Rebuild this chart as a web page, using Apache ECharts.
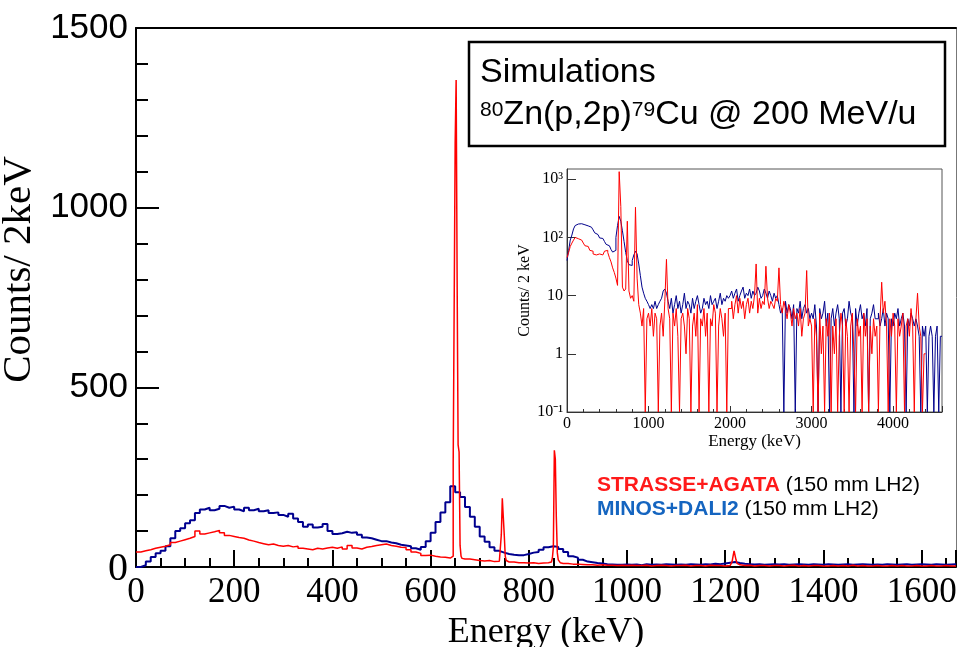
<!DOCTYPE html>
<html>
<head>
<meta charset="utf-8">
<title>80Zn(p,2p)79Cu simulations</title>
<script src="https://cdn.jsdelivr.net/npm/echarts@6/dist/echarts.min.js"></script>
<style>
html,body{margin:0;padding:0;background:#fff;}
#main{width:961px;height:647px;}
</style>
</head>
<body>
<div id="main"></div>
<script>
// main spectrum, 10 keV steps, counts per 2 keV
var mainBinWidth = 10;
var mainMaxE = 1670;
var blueMain = [
  0, 5, 15, 28, 38, 45, 58, 80, 100, 108,
  122, 130, 150, 160, 165, 158, 162, 170, 165, 168,
  160, 155, 165, 158, 162, 155, 158, 150, 152, 145,
  140, 148, 135, 125, 112, 118, 110, 112, 120, 100,
  92, 94, 98, 95, 97, 90, 82, 80, 76, 72,
  72, 68, 66, 62, 60, 58, 52, 48, 56, 72,
  95, 125, 152, 180, 225, 208, 195, 167, 140, 112,
  85, 70, 55, 45, 40, 36, 34, 33, 33, 36,
  40, 42, 48, 55, 58, 56, 50, 42, 30, 26,
  20, 15, 13, 11, 10, 8, 7, 6, 6, 7,
  6, 7, 5, 8, 6, 7, 6, 8, 7, 6,
  7, 6, 8, 7, 6, 8, 7, 9, 8, 10,
  12, 14, 11, 9, 8, 7, 8, 6, 7, 8,
  7, 8, 6, 7, 8, 7, 6, 8, 7, 6,
  8, 7, 6, 7, 8, 6, 7, 8, 7, 6,
  7, 6, 8, 7, 6, 7, 8, 6, 7, 8,
  7, 6, 8, 7, 6, 7, 8
];
var redMain = [
  42, 45, 48, 52, 55, 58, 62, 68, 72, 76,
  80, 85, 100, 92, 95, 98, 102, 95, 88, 85,
  82, 80, 75, 72, 68, 65, 62, 64, 60, 58,
  60, 56, 58, 52, 50, 48, 52, 50, 53, 55,
  52, 56, 50, 60, 53, 50, 55, 57, 60, 62,
  64, 60, 58, 55, 54, 48, 42, 38, 32, 33,
  30, 28, 27, 25, 700, 500, 35, 22, 20, 18,
  17, 18, 15, 16, 90, 60, 14, 12, 12, 11,
  12, 10, 11, 12, 15, 190, 15, 10, 8, 8,
  7, 6, 6, 5, 6, 5, 5, 4, 5, 4,
  5, 4, 4, 5, 3, 4, 5, 4, 3, 4,
  4, 5, 3, 4, 4, 3, 5, 4, 4, 3,
  4, 20, 20, 4, 5, 3, 4, 4, 3, 4,
  4, 3, 4, 5, 3, 4, 3, 4, 4, 3,
  3, 4, 3, 4, 3, 5, 3, 4, 3, 3,
  4, 3, 3, 4, 3, 4, 3, 3, 4, 3,
  3, 4, 3, 3, 4, 3, 3
];
// narrow red lines in 2 keV bins
var peakBinWidth = 2;
var redPeakStart = [640, 740, 840, 1210];
var redPeakCounts = [
  [26, 28, 30, 290, 730, 1180, 1355, 800, 340, 320, 60, 30, 24, 22, 22],
  [16, 18, 90, 191, 140, 89, 30, 18, 15, 14],
  [12, 12, 14, 15, 25, 55, 325, 300, 140, 40, 20, 15, 12, 11, 10],
  [6, 8, 15, 30, 45, 40, 20, 10, 7, 6]
];

// inset, 20 keV steps, log scale
var insetBinWidth = 20;
var insetMaxE = 4600;
var blueInset = [
  40, 60, 90, 110, 140, 160, 170, 165, 172, 168,
  165, 160, 158, 150, 150, 140, 135, 120, 112, 108,
  98, 96, 92, 85, 76, 72, 68, 62, 56, 60,
  100, 160, 230, 190, 130, 85, 55, 40, 34, 33,
  40, 50, 58, 52, 35, 22, 14, 11, 9, 8,
  7, 6, 7, 6, 8, 6, 7, 8, 9, 12,
  13, 11, 8, 6, 9, 5, 7, 10, 6, 8,
  5, 7, 11, 6, 8, 7, 5, 9, 6, 8,
  10, 7, 5, 6, 9, 7, 8, 6, 10, 7,
  8, 9, 6, 8, 11, 7, 9, 8, 10, 9,
  10, 12, 9, 11, 13, 8, 10, 12, 14, 9,
  11, 10, 13, 9, 12, 10, 11, 14, 12, 9,
  10, 13, 11, 9, 12, 10, 8, 11, 9, 10,
  7, 5, 6, 0, 8, 5, 7, 6, 4, 7,
  0, 6, 5, 8, 4, 6, 7, 5, 6, 4,
  5, 4, 7, 3, 0, 6, 4, 5, 8, 3,
  5, 0, 4, 6, 3, 5, 7, 4, 0, 5,
  6, 3, 4, 8, 5, 4, 0, 6, 3, 5,
  7, 4, 5, 3, 6, 0, 4, 5, 7, 4,
  4, 5, 3, 4, 6, 3, 5, 4, 0, 4,
  3, 5, 4, 6, 3, 4, 5, 3, 0, 4,
  3, 5, 4, 3, 4, 3, 2, 0, 3, 2,
  3, 0, 2, 3, 2, 0, 2, 3, 0, 2
];
var redInset = [
  45, 55, 70, 80, 90, 100, 95, 98, 90, 85,
  80, 72, 70, 65, 60, 58, 52, 50, 48, 52,
  55, 50, 52, 58, 60, 55, 45, 38, 30, 25,
  20, 15, 1350, 340, 14, 12, 13, 190, 12, 9,
  10, 8, 330, 20, 7, 5, 3, 6, 0, 4,
  5, 3, 6, 2, 5, 4, 0, 3, 5, 2,
  8, 42, 6, 4, 0, 5, 3, 6, 2, 0,
  4, 5, 3, 1, 6, 4, 0, 3, 5, 2,
  7, 0, 4, 3, 6, 2, 5, 0, 4, 3,
  7, 5, 0, 3, 6, 4, 2, 5, 0, 6,
  6, 8, 4, 7, 10, 5, 9, 6, 8, 4,
  7, 9, 5, 8, 6, 10, 35, 5, 9, 6,
  8, 7, 32, 9, 6, 8, 7, 6, 9, 8,
  30, 7, 5, 8, 6, 4, 7, 5, 3, 6,
  4, 5, 3, 6, 2, 4, 5, 27, 3, 4,
  3, 0, 4, 2, 0, 5, 1, 3, 0, 4,
  2, 5, 0, 3, 1, 4, 0, 2, 5, 3,
  0, 4, 2, 0, 3, 5, 1, 0, 4, 2,
  3, 0, 5, 2, 4, 0, 3, 1, 4, 2,
  3, 0, 4, 17, 5, 8, 3, 0, 4, 2,
  5, 3, 0, 4, 2, 3, 5, 0, 3, 4,
  2, 6, 3, 0, 4, 11, 3, 2, 0, 1
];
var logMin = 0.1;
var logTicks = [0.1, 1, 10, 100, 1000];
var logTickText = ['10\u207B\u00B9', '1', '10', '10\u00B2', '10\u00B3'];

var legendNames = ['STRASSE+AGATA', 'MINOS+DALI2'];
var legendNote = ' (150 mm LH2)';

var serif = '"Liberation Serif", "Times New Roman", serif';
var sans = '"Liberation Sans", Arial, sans-serif';

var dom = document.getElementById('main');
var myChart = echarts.init(dom);

// histogram -> [lowEdge, count] points for a step line, fine bins spliced in
function stepData(counts, width, peakStart, peakCounts, floor) {
  var pts = [];
  for (var i = 0; i < counts.length; i++) {
    var e = i * width;
    var k = peakStart ? peakStart.indexOf(e) : -1;
    if (k >= 0) {
      var fine = peakCounts[k];
      for (var j = 0; j < fine.length; j++) {
        pts.push([e + j * peakBinWidth, fine[j]]);
      }
      i += Math.round(fine.length * peakBinWidth / width) - 1;
      continue;
    }
    pts.push([e, counts[i]]);
  }
  pts.push([counts.length * width, counts[counts.length - 1]]);
  if (floor) {
    pts = pts.map(function (p) { return [p[0], Math.max(p[1], floor)]; });
  }
  return pts;
}

function plainNum(v) {
  return String(v);
}

function logLabel(v) {
  for (var i = 0; i < logTicks.length; i++) {
    if (Math.abs(Math.log10(v) - Math.log10(logTicks[i])) < 1e-6) return logTickText[i];
  }
  return '';
}

var option = {
  animation: false,
  backgroundColor: '#fff',
  grid: [
    {left: 136, top: 28, width: 820, height: 539, containLabel: false, outerBoundsMode: 'none'},
    {left: 567, top: 169, width: 375, height: 243, show: true, containLabel: false, outerBoundsMode: 'none',
      backgroundColor: '#fff', borderColor: '#555', borderWidth: 1}
  ],
  xAxis: [
    {
      type: 'value', gridIndex: 0, min: 0, max: mainMaxE, interval: 200,
      axisLine: {onZero: false, lineStyle: {color: '#000', width: 2}},
      axisTick: {inside: true, length: 17, lineStyle: {color: '#000', width: 2}},
      minorTick: {show: true, splitNumber: 4, length: 9, lineStyle: {color: '#000', width: 2}},
      splitLine: {show: false},
      axisLabel: {color: '#000', fontFamily: serif, fontSize: 35, margin: 8, showMaxLabel: false, formatter: plainNum},
      name: 'Energy (keV)', nameLocation: 'middle', nameGap: 34,
      nameTextStyle: {color: '#000', fontFamily: serif, fontSize: 36}
    },
    {
      type: 'value', gridIndex: 0, position: 'top', min: 0, max: mainMaxE,
      axisLine: {show: true, onZero: false, lineStyle: {color: '#000', width: 2}},
      axisTick: {show: false}, axisLabel: {show: false}, splitLine: {show: false}
    },
    {
      type: 'value', gridIndex: 1, min: 0, max: insetMaxE, interval: 1000,
      axisLine: {onZero: false, lineStyle: {color: '#333', width: 1}},
      axisTick: {inside: true, length: 6, lineStyle: {color: '#333'}},
      minorTick: {show: true, splitNumber: 5, length: 3, lineStyle: {color: '#333'}},
      splitLine: {show: false},
      axisLabel: {color: '#000', fontFamily: serif, fontSize: 16, margin: 4, showMaxLabel: false, formatter: plainNum},
      name: 'Energy (keV)', nameLocation: 'middle', nameGap: 18,
      nameTextStyle: {color: '#000', fontFamily: serif, fontSize: 17}
    }
  ],
  yAxis: [
    {
      type: 'value', gridIndex: 0, min: 0, max: 1500, interval: 500,
      axisLine: {onZero: false, lineStyle: {color: '#000', width: 2}},
      axisTick: {inside: true, length: 23, lineStyle: {color: '#000', width: 2}},
      minorTick: {show: true, splitNumber: 5, length: 12, lineStyle: {color: '#000', width: 2}},
      splitLine: {show: false},
      axisLabel: {
        color: '#000', fontFamily: sans, fontSize: 35, margin: 8,
        formatter: function (v) { return v === 0 ? '{z|0}' : String(v); },
        rich: {z: {fontFamily: serif, fontSize: 40, color: '#000', padding: [4, 0, 0, 0]}}
      },
      name: 'Counts/ 2keV', nameLocation: 'middle', nameGap: 82,
      nameTextStyle: {color: '#000', fontFamily: serif, fontSize: 41, padding: [0, 0, 0, 56]}
    },
    {
      type: 'value', gridIndex: 0, position: 'right', min: 0, max: 1500,
      axisLine: {show: true, onZero: false, lineStyle: {color: '#777', width: 1}},
      axisTick: {show: false}, axisLabel: {show: false}, splitLine: {show: false}
    },
    {
      type: 'log', gridIndex: 1, logBase: 10, min: logMin, max: 1500,
      axisLine: {onZero: false, lineStyle: {color: '#333', width: 1}},
      axisTick: {inside: true, length: 9, lineStyle: {color: '#333'}},
      splitLine: {show: false},
      axisLabel: {color: '#000', fontFamily: serif, fontSize: 16, margin: 4, showMaxLabel: false, formatter: logLabel},
      name: 'Counts/ 2 keV', nameLocation: 'middle', nameGap: 34,
      nameTextStyle: {color: '#000', fontFamily: serif, fontSize: 16}
    }
  ],
  series: [
    {
      name: legendNames[1], type: 'line', xAxisIndex: 0, yAxisIndex: 0, step: 'end',
      symbol: 'none', data: stepData(blueMain, mainBinWidth),
      lineStyle: {color: '#00008f', width: 2}, z: 2
    },
    {
      name: legendNames[0], type: 'line', xAxisIndex: 0, yAxisIndex: 0, step: 'end',
      symbol: 'none', data: stepData(redMain, mainBinWidth, redPeakStart, redPeakCounts),
      lineStyle: {color: '#ff0000', width: 1.5}, z: 3
    },
    {
      name: legendNames[1] + ' log', type: 'line', xAxisIndex: 2, yAxisIndex: 2, step: 'end',
      symbol: 'none', data: stepData(blueInset, insetBinWidth, null, null, logMin),
      lineStyle: {color: '#00008b', width: 1}, z: 4
    },
    {
      name: legendNames[0] + ' log', type: 'line', xAxisIndex: 2, yAxisIndex: 2, step: 'end',
      symbol: 'none', data: stepData(redInset, insetBinWidth, null, null, logMin),
      lineStyle: {color: '#ff0000', width: 1}, z: 5
    }
  ],
  graphic: {
    elements: [
      {
        type: 'rect', z: 100,
        shape: {x: 469, y: 42, width: 476, height: 104},
        style: {fill: '#fff', stroke: '#000', lineWidth: 2.5}
      },
      {
        type: 'text', z: 101, x: 480, y: 52,
        style: {
          text: 'Simulations\n{sup|80}Zn(p,2p){sup|79}Cu @ 200 MeV/u',
          font: '34px ' + sans, fill: '#000', lineHeight: 42, verticalAlign: 'top',
          rich: {sup: {fontSize: 21, fontFamily: sans, fill: '#000', padding: [0, 0, 10, 0]}}
        }
      },
      {
        type: 'text', z: 101, x: 597, y: 473,
        style: {
          text: '{r|' + legendNames[0] + '}{k|' + legendNote + '}\n{b|' + legendNames[1] + '}{k|' + legendNote + '}',
          font: '21px ' + sans, fill: '#000', lineHeight: 24, verticalAlign: 'top',
          rich: {
            r: {fontSize: 21, fontFamily: sans, fontWeight: 'bold', fill: '#ff1a1a'},
            b: {fontSize: 21, fontFamily: sans, fontWeight: 'bold', fill: '#1565c0'},
            k: {fontSize: 21, fontFamily: sans, fill: '#000'}
          }
        }
      }
    ]
  }
};
myChart.setOption(option);
</script>
</body>
</html>
